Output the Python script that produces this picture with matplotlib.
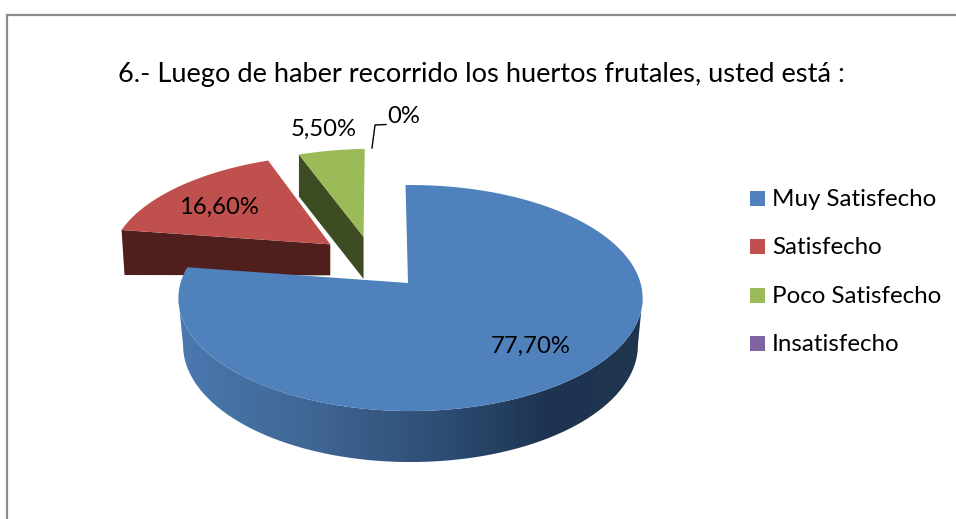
import numpy as np
import matplotlib
matplotlib.use('Agg')
import matplotlib.pyplot as plt
from matplotlib.colors import LinearSegmentedColormap
from matplotlib.patches import Polygon, Rectangle

plt.rcParams['font.family'] = ['Lato', 'DejaVu Sans']

title = '6.- Luego de haber recorrido los huertos frutales, usted está :'
categories = ['Muy Satisfecho', 'Satisfecho', 'Poco Satisfecho', 'Insatisfecho']
values = [77.7, 16.6, 5.5, 0.0]
value_labels = ['77,70%', '16,60%', '5,50%', '0%']
colors = ['#4f81bd', '#c0504d', '#9bbb59', '#8064a2']
wall_colors = ['#1f3552', '#4f1f1d', '#3d4c22', '#40325a']

# perspective of the pie plane, in pixels of the picture
CX, CY = 410.5, 283
R, K, P = 230, 111, 0.133
FIRST_ANGLE = -1.4
# how far each slice is pulled out of the centre (plane units)
offsets = [(0.0, 0.0), (-0.352, -0.365), (-0.2, -0.44), (0.0, 0.0)]
# the tips of the slices sit a little left of the projected centre
apex_shift = [-2.5, -3, -3.5, 0]


def project(u, v):
    w = 1 - P * v
    return CX + R * u / w, CY + K * v / w


def slice_outline(i, start, stop):
    off = offsets[i]
    ang = np.radians(np.linspace(start, stop, 400) + FIRST_ANGLE)
    xs, ys = project(off[0] + np.sin(ang), off[1] - np.cos(ang))
    ax0, ay0 = project(off[0], off[1])
    return xs, ys, (ax0 + apex_shift[i], ay0)


fig = plt.figure(figsize=(9.56, 5.19), dpi=100)
ax = fig.add_axes([0, 0, 1, 1])

# chart frame, cut by the picture on the right and bottom
ax.plot([7, 7, 956], [519, 15, 15], color='#8c8c8c', lw=1.6, solid_joinstyle='miter')

ax.text(481.5, 82, title, ha='center', va='baseline', fontsize=19.6, color='black')

edges = np.cumsum([0] + values) * 3.6

# red slice: front cut wall then top
xs, ys, apex = slice_outline(1, edges[1], edges[2])
ax.add_patch(Polygon([(xs[0], ys[0]), apex, (apex[0], apex[1] + 31),
                      (xs[0] + 3, ys[0] + 45)], fc=wall_colors[1], ec='none'))
ax.add_patch(Polygon(list(zip(xs, ys)) + [apex], fc=colors[1], ec='none'))

# green slice: left cut wall then top
xs, ys, apex = slice_outline(2, edges[2], edges[3])
ax.add_patch(Polygon([(xs[0], ys[0]), apex, (apex[0], apex[1] + 42),
                      (xs[0], ys[0] + 42)], fc=wall_colors[2], ec='none'))
ax.add_patch(Polygon(list(zip(xs, ys)) + [apex], fc=colors[2], ec='none'))

# blue slice: outer wall between the two side extremes, gradient left to right
xs, ys, apex = slice_outline(0, edges[0], edges[1])
i_right, i_left = xs.argmax(), xs.argmin()
wall_x, wall_y = xs[i_right:i_left + 1], ys[i_right:i_left + 1]
left, right = wall_x.min(), wall_x.max()
low_x = CX + (wall_x - CX) * 0.98
low_y = wall_y + 47 + 4 * np.clip(wall_y - 298, 0, None) / 113
wall_shape = Polygon(list(zip(wall_x, wall_y)) + list(zip(low_x[::-1], low_y[::-1])),
                     fc='none', ec='none', transform=ax.transData)
ax.add_patch(wall_shape)
shade = LinearSegmentedColormap.from_list(
    'wall', [(0, '#4a79b0'), (0.3, '#3f6593'), (0.6, '#2b4a70'), (0.8, '#1e334f'), (1, '#20354f')])
ramp = ax.imshow(np.linspace(0, 1, 512)[None, :], cmap=shade, aspect='auto',
                 extent=(left, right, low_y.max(), wall_y.min()), interpolation='bilinear')
ramp.set_clip_path(wall_shape)
ax.add_patch(Polygon(list(zip(xs, ys)) + [apex], fc=colors[0], ec='none'))

ax.set_xlim(0, 956)
ax.set_ylim(519, 0)
ax.axis('off')

# value labels
ax.text(530.5, 353, value_labels[0], ha='center', va='baseline', fontsize=17.2, color='black')
ax.text(218.5, 214, value_labels[1], ha='center', va='baseline', fontsize=17.2, color='black')
ax.text(324, 136, value_labels[2], ha='center', va='baseline', fontsize=17.2, color='black')
ax.text(404, 123, value_labels[3], ha='center', va='baseline', fontsize=17.2, color='black')
ax.plot([372, 375, 386], [148, 125, 124.5], color='black', lw=1)

# legend
for name, color, y in zip(categories, colors, [198, 246, 295, 343]):
    ax.add_patch(Rectangle((750, y - 7.5), 15, 15, fc=color, ec='none'))
    ax.text(772, y + 8, name, ha='left', va='baseline', fontsize=17.4, color='black')

fig.savefig('out.png', dpi=100)
